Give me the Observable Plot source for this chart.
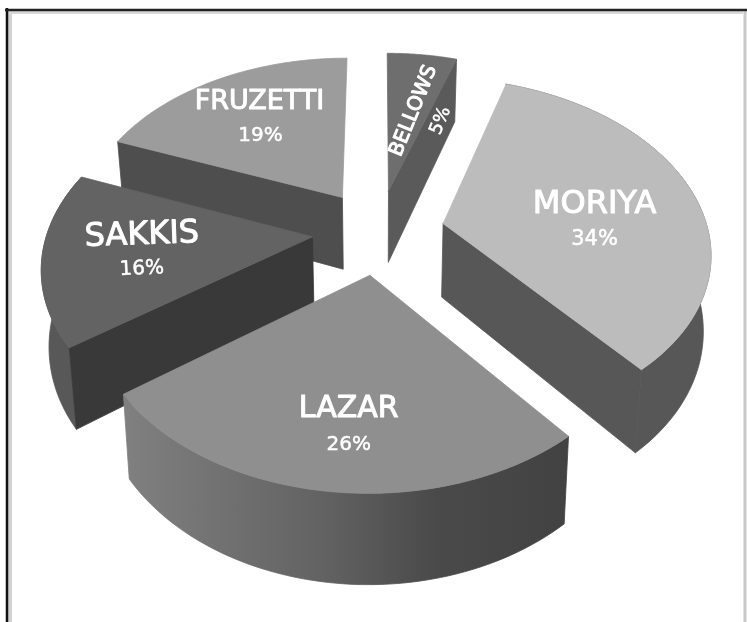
<!DOCTYPE html>
<html>
<head>
<meta charset="utf-8">
<script src="https://cdn.jsdelivr.net/npm/d3@7"></script>
<script src="https://cdn.jsdelivr.net/npm/@observablehq/plot@0.6"></script>
<style>
html,body{margin:0;padding:0;background:#fff}
svg{display:block}
</style>
</head>
<body>
<div id="chart"></div>
<script>
// Chart values
const names = ["Bellows", "Moriya", "Lazar", "Sakkis", "Fruzetti"];
const shares = [5, 34, 26, 16, 19];

// Styles, one entry per slice
const topShades = ["#6e6e6e", "#bcbcbc", "#8f8f8f", "#636363", "#9c9c9c"];
const wallShades = ["#5a5a5a", "#575757", "#4a4a4a", "#393939", "#4e4e4e"];
const rimShades = [null, "#575757", "url(#lazarRim)", "#585858", null];
const lazarRimStops = [[0, "#424242"], [0.3, "#4a4a4a"], [0.55, "#626262"], [1, "#808080"]];
const paintOrder = [4, 0, 1, 3, 2];
const visibleCut = ["a1", "a1", null, "a0", "a0"];

// Label placement inside each slice: fraction of the sweep, fraction of the radius
const labelSweep = [0.98, 0.574, 0.472, 0.495, 0.525];
const labelRadius = [0.54, 0.578, 0.726, 0.613, 0.638];
const labelStyle = [
  {nameSize: 20, pctSize: 18, rotate: -68, nameDx: -14, nameDy: -5, pctDx: 13, pctDy: 5},
  {nameSize: 32, pctSize: 21, rotate: 0, nameDx: 0, nameDy: -18, pctDx: 0, pctDy: 18},
  {nameSize: 30, pctSize: 20, rotate: 0, nameDx: -2, nameDy: -18, pctDx: -2, pctDy: 18},
  {nameSize: 32, pctSize: 20, rotate: -2, nameDx: -6, nameDy: -17, pctDx: -6, pctDy: 17},
  {nameSize: 27, pctSize: 20, rotate: 0, nameDx: -4, nameDy: -17, pctDx: -3, pctDy: 17}
];

// Perspective view of the pie
const cx = 378, cy = 231, scaleX = 265, scaleY = 170, depth = 0.152, explode = 0.25, thickness = 74, shrink = 0.977;
const project = (X, Y) => {
  const w = 1 + depth * Y;
  return {x: cx + scaleX * X / w, y: cy - scaleY * Y / w, w};
};
const lower = (p) => ({x: cx + (p.x - cx) * shrink, y: p.y + thickness / p.w});

const arcs = d3.pie().sort(null).value((d) => d)(shares);
const sliceGeom = arcs.map((a) => {
  const mid = (a.startAngle + a.endAngle) / 2;
  const ax = explode * Math.sin(mid), ay = explode * Math.cos(mid);
  const at = (t, r = 1) => project(ax + r * Math.sin(t), ay + r * Math.cos(t));
  return {a0: a.startAngle, a1: a.endAngle, apex: project(ax, ay), at};
});

const polys = [];
let pid = 0;
const addPoly = (pts, shade) => {
  const id = pid++;
  [...pts, pts[0]].forEach((p) => polys.push({x: p.x, y: p.y, id, shade}));
};
const sweep = (g, n) => d3.range(n + 1).map((i) => g.a0 + (g.a1 - g.a0) * i / n);

for (const i of paintOrder) {
  const g = sliceGeom[i];
  const edge = sweep(g, 60).map((t) => g.at(t));
  // curved rim, where the viewer can see it
  if (rimShades[i]) addPoly([...edge, ...edge.map(lower).reverse()], rimShades[i]);
  // flat cut wall facing the viewer
  if (visibleCut[i]) {
    const e = g.at(g[visibleCut[i]]);
    addPoly([g.apex, e, lower(e), lower(g.apex)], wallShades[i]);
  }
  // top face
  addPoly([g.apex, ...edge], topShades[i]);
}

const gradientDefs = () => {
  const defs = d3.create("svg:defs");
  const grad = defs.append("linearGradient").attr("id", "lazarRim");
  for (const [at, color] of lazarRimStops.slice().reverse()) {
    grad.append("stop").attr("offset", 1 - at).attr("stop-color", color);
  }
  return defs.node();
};

const labelMarks = names.flatMap((name, i) => {
  const g = sliceGeom[i];
  const p = g.at(g.a0 + (g.a1 - g.a0) * labelSweep[i], labelRadius[i]);
  const s = labelStyle[i];
  const common = {x: () => p.x, y: () => p.y, fill: "#fff", stroke: "#fff", rotate: s.rotate,
    fontFamily: "'DejaVu Sans', sans-serif", textAnchor: "middle", lineAnchor: "middle"};
  return [
    Plot.text([name.toUpperCase()], {...common, text: (d) => d, fontSize: s.nameSize, strokeWidth: 1, dx: s.nameDx, dy: s.nameDy}),
    Plot.text([shares[i] + "%"], {...common, text: (d) => d, fontSize: s.pctSize, strokeWidth: 0.5, dx: s.pctDx, dy: s.pctDy})
  ];
});

const chart = Plot.plot({
  width: 747,
  height: 622,
  margin: 0,
  x: {type: "identity", axis: null},
  y: {type: "identity", axis: null},
  color: {type: "identity"},
  style: {background: "#fff", filter: "blur(0.5px)"},
  marks: [
    gradientDefs,
    // picture frame
    Plot.ruleX([9.5], {y1: 11, y2: 622, stroke: "#d2d2d2", strokeWidth: 4}),
    Plot.ruleY([12], {x1: 8, x2: 743, stroke: "#d8d8d8", strokeWidth: 3}),
    Plot.ruleX([744.5], {y1: 11, y2: 622, stroke: "#c8c8c8", strokeWidth: 3}),
    Plot.ruleX([6.5], {y1: 8, y2: 622, stroke: "#111", strokeWidth: 2.5}),
    Plot.ruleY([9.5], {x1: 5, x2: 747, stroke: "#222", strokeWidth: 2.5}),
    Plot.line(polys, {x: "x", y: "y", z: "id", fill: "shade", stroke: "shade", strokeWidth: 0.8, strokeLinejoin: "round", curve: "linear"}),
    ...labelMarks
  ]
});
document.getElementById("chart").append(chart);
</script>
</body>
</html>
